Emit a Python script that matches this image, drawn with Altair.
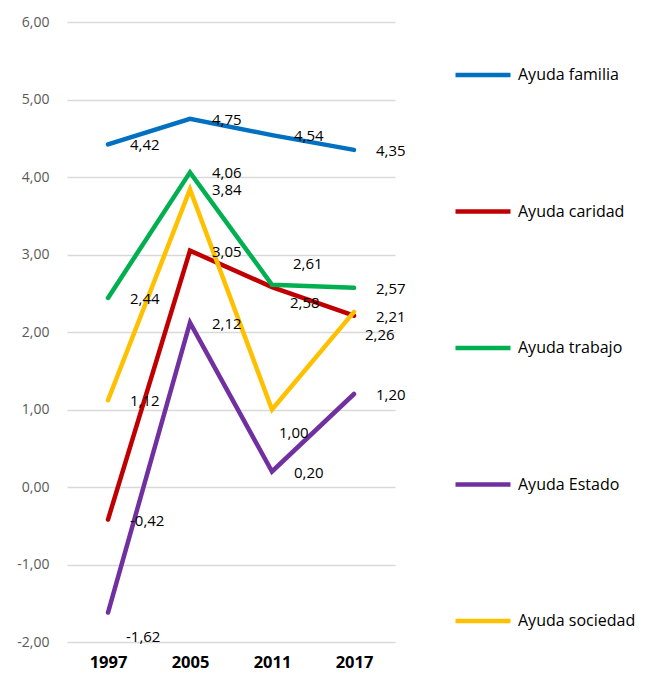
import altair as alt
import pandas as pd

years = ["1997", "2005", "2011", "2017"]
series = ["Ayuda familia", "Ayuda caridad", "Ayuda trabajo", "Ayuda Estado", "Ayuda sociedad"]
colors = ["#0070C0", "#C00000", "#00B050", "#7030A0", "#FFC000"]
familia = [4.42, 4.75, 4.54, 4.35]
caridad = [-0.42, 3.05, 2.58, 2.21]
trabajo = [2.44, 4.06, 2.61, 2.57]
estado = [-1.62, 2.12, 0.20, 1.20]
sociedad = [1.12, 3.84, 1.00, 2.26]

rows = []
for name, vals in zip(series, [familia, caridad, trabajo, estado, sociedad]):
    for i, (y, v) in enumerate(zip(years, vals)):
        rows.append({"year": y, "serie": name, "value": v, "order": i})
df = pd.DataFrame(rows)

FONT = "Open Sans"
FMT = "replace(replace(format(datum.value, '.2f'), '.', ','), '\u2212', '-')"

x = alt.X("year:O", scale=alt.Scale(type="point", padding=0.5), title=None,
          axis=alt.Axis(labelAngle=0, labelFontWeight="bold", labelColor="#000000",
                        labelFontSize=16.5, labelFont=FONT, domain=False, ticks=False,
                        labelPadding=12))
y = alt.Y("value:Q", scale=alt.Scale(domain=[-2, 6], nice=False), title=None,
          axis=alt.Axis(values=list(range(-2, 7)), labelExpr=FMT,
                        labelColor="#595959", labelFontSize=14, labelFont=FONT, domain=False,
                        ticks=False, labelPadding=18, gridColor="#D9D9D9", gridWidth=1.5))
color = alt.Color("serie:N", scale=alt.Scale(domain=series, range=colors), title=None,
                  legend=alt.Legend(orient="none", legendX=386, legendY=23, symbolType="stroke",
                                    symbolSize=3025, symbolStrokeWidth=4.5, labelFontSize=16,
                                    labelFont=FONT, labelColor="#000000", rowPadding=97.5,
                                    labelOffset=5, direction="vertical"))

lines = alt.Chart(df).mark_line(strokeWidth=4.5, strokeCap="round", strokeJoin="miter").encode(
    x=x, y=y, color=color, order="order:Q")

base_text = alt.Chart(df).transform_calculate(
    label=FMT,
    key="datum.serie + '|' + datum.year")

def labels(keys, dx, dy, exclude=False):
    cond = " || ".join([f"datum.key == '{k}'" for k in keys])
    if exclude:
        cond = f"!({cond})"
    return base_text.transform_filter(cond).mark_text(
        align="left", baseline="middle", dx=dx, dy=dy, fontSize=15, font=FONT, color="#000000"
    ).encode(x=alt.X("year:O"), y=alt.Y("value:Q"), text="label:N")

special = {
    "Ayuda trabajo|2011": (21, -21),
    "Ayuda caridad|2011": (18, 16),
    "Ayuda sociedad|2017": (11, 23),
    "Ayuda sociedad|2011": (7, 23),
    "Ayuda Estado|1997": (18, 24),
}
layers = [lines, labels(list(special.keys()), 22, 1, exclude=True)]
for k, (dx, dy) in special.items():
    layers.append(labels([k], dx, dy))

chart = alt.layer(*layers).properties(
    width=328, height=620,
    autosize=alt.AutoSizeParams(type="none"),
    padding={"left": 59, "top": 14, "right": 250, "bottom": 30},
).configure_view(stroke=None)

chart.save("out.html", embed_options={"renderer": "svg", "actions": False})
